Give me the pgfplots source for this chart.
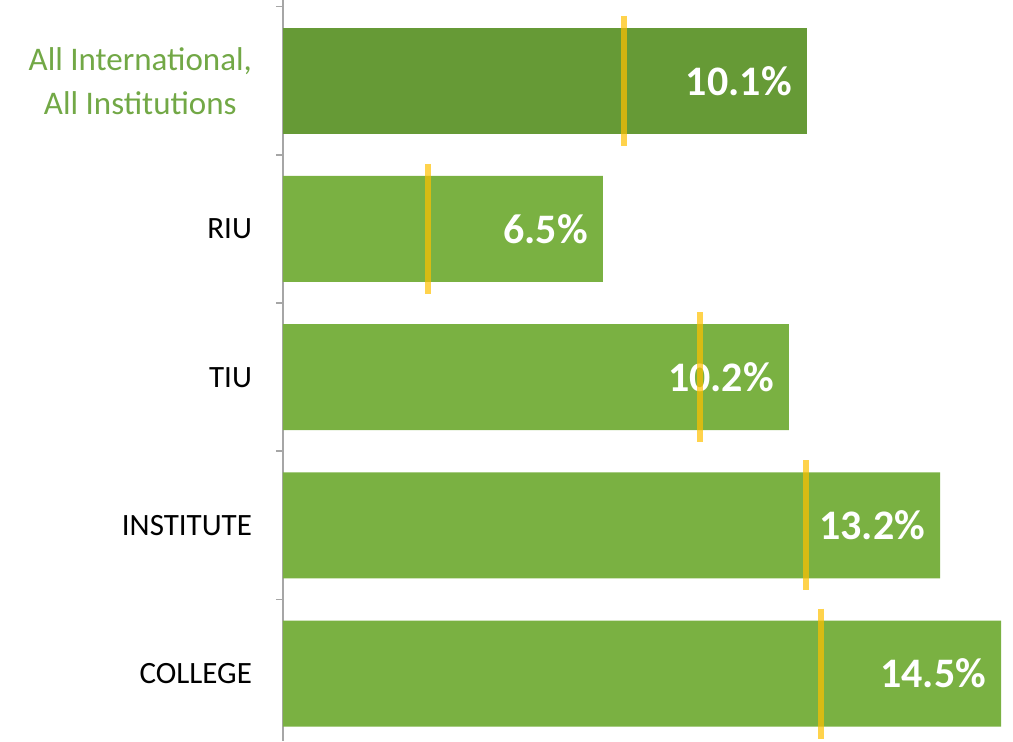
\documentclass[border=0pt]{standalone}
\usepackage{fontspec}
\setmainfont{Carlito}
\usepackage{pgfplots}
\pgfplotsset{compat=1.18}
\definecolor{bardark}{HTML}{669A36}
\definecolor{barlight}{HTML}{7AB142}
\definecolor{labgreen}{HTML}{72A846}
\definecolor{target}{HTML}{FFC000}
\definecolor{axgray}{HTML}{A6A6A6}

\begin{document}
\begin{tikzpicture}
\begin{axis}[
  at={(141.5pt,0pt)}, anchor=south west,
  scale only axis, width=365pt, height=370.5pt,
  xmin=0, xmax=14.72, ymin=-0.545, ymax=4.455, y dir=reverse,
  axis x line=none, axis y line=left,
  axis line style={-, axgray, line width=0.8pt},
  ytick={0,1,2,3,4},
  yticklabels={{\color{labgreen}\fontsize{16.5}{21}\selectfont All International,\\[3pt]\color{labgreen}\fontsize{16.5}{21}\selectfont All Institutions},RIU,TIU,INSTITUTE,COLLEGE},
  yticklabel style={font=\fontsize{15.5}{19}\selectfont, align=center, anchor=east, xshift=-12pt},
  major tick length=0pt,
  extra y ticks={-0.5,0.5,1.5,2.5,3.5},
  extra y tick labels={},
  extra y tick style={major tick length=3.5pt, tick align=outside, ytick pos=left, tick style={axgray, line width=0.8pt}},
  clip=false,
  point meta=explicit symbolic,
  nodes near coords,
  every node near coord/.append style={anchor=east, xshift=-4pt, text=white, font=\fontsize{21}{25}\selectfont\bfseries},
]
\addplot[xbar, bar width=53pt, bar shift=0pt, fill=bardark, draw=none]
  coordinates {(10.56,0) [10.1\%]};
\addplot[xbar, bar width=53pt, bar shift=0pt, fill=barlight, draw=none]
  coordinates {(6.45,1) [6.5\%] (10.2,2) [10.2\%] (13.25,3) [13.2\%] (14.48,4) [14.5\%]};
\addplot[only marks, mark=|, mark size=32.5pt, nodes near coords={},
  mark options={draw=target, draw opacity=0.7, line width=3pt}]
  coordinates {(6.88,0) (2.92,1) (8.41,2) (10.54,3) (10.85,4)};
\end{axis}
\pgfresetboundingbox
\path (0,0) rectangle (506.5pt,370.5pt);
\end{tikzpicture}
\end{document}
